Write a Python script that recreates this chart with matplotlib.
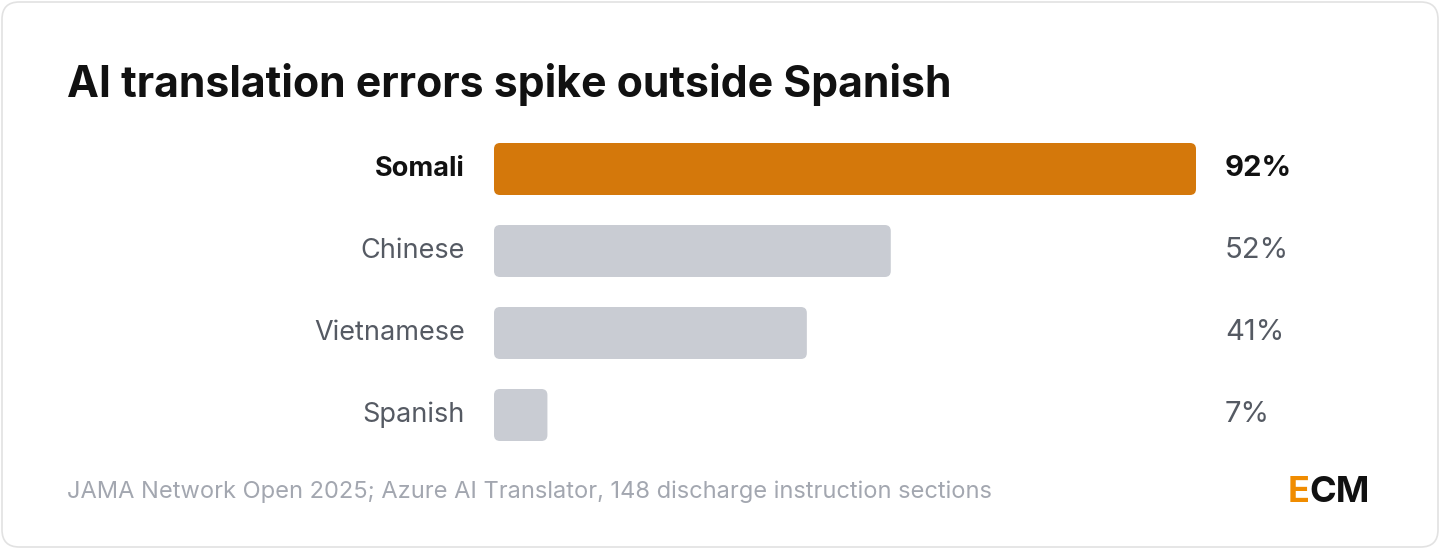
import matplotlib
matplotlib.use("Agg")
import matplotlib.pyplot as plt
from matplotlib.patches import FancyBboxPatch

plt.rcParams['font.family'] = ['Inter', 'DejaVu Sans']

# data
languages = ['Somali', 'Chinese', 'Vietnamese', 'Spanish']
error_rates = [92, 52, 41, 7]
value_labels = ['92%', '52%', '41%', '7%']
title = 'AI translation errors spike outside Spanish'
source = 'JAMA Network Open 2025; Azure AI Translator, 148 discharge instruction sections'

W, H = 1440, 549
fig = plt.figure(figsize=(W / 100, H / 100), dpi=100)

# card background
card = FancyBboxPatch((2 / W, 2 / H), 1436 / W, 545 / H,
                      boxstyle="round,pad=0,rounding_size=0.012",
                      transform=fig.transFigure, facecolor='white',
                      edgecolor='#e2e2e2', linewidth=1.2, mutation_aspect=W / H,
                      zorder=-10)
fig.patches.append(card)

fig.text(67 / W, 1 - 85 / H, title, fontsize=30.8, fontweight='bold',
         color='#111111', va='center', ha='left')

# axes: x 494..1196 px covers 0..92, y 128..456 px covers 4 rows
ax = fig.add_axes([494 / W, 1 - 456 / H, 702 / W, 328 / H])
ax.set_zorder(5)
ax.set_xlim(0, 92)
ax.set_ylim(3.5, -0.5)
ax.axis('off')

xpp = 92 / 702   # x units per pixel
ypp = 1 / 82     # y units per pixel
bar_h = 52 * ypp

for i, (lang, val, lab) in enumerate(zip(languages, error_rates, value_labels)):
    highlight = i == 0
    color = '#d4780b' if highlight else '#c9ccd3'
    bar = FancyBboxPatch((0, i - bar_h / 2), val, bar_h,
                         boxstyle=f"round,pad=0,rounding_size={6 * xpp}",
                         mutation_aspect=ypp / xpp,
                         facecolor=color, edgecolor='none')
    ax.add_patch(bar)
    ax.text(-29 * xpp, i, lang, ha='right', va='center', fontsize=19.5,
            fontweight='bold' if highlight else 'normal',
            color='#111111' if highlight else '#555a63', clip_on=False)
    ax.text(92 + 29 * xpp, i, lab, ha='left', va='center', fontsize=21,
            fontweight='bold' if highlight else 'normal',
            color='#111111' if highlight else '#555a63', clip_on=False)

fig.text(67 / W, 1 - 492 / H, source, fontsize=17, color='#a3a7b0',
         va='center', ha='left')

# logo
fig.text(1288 / W, 1 - 492 / H, 'E', fontsize=26, fontweight='bold',
         color='#f08c00', va='center', ha='left')
fig.text(1309 / W, 1 - 492 / H, 'CM', fontsize=26, fontweight='bold',
         color='#111111', va='center', ha='left')

fig.savefig('out.png', dpi=100)
